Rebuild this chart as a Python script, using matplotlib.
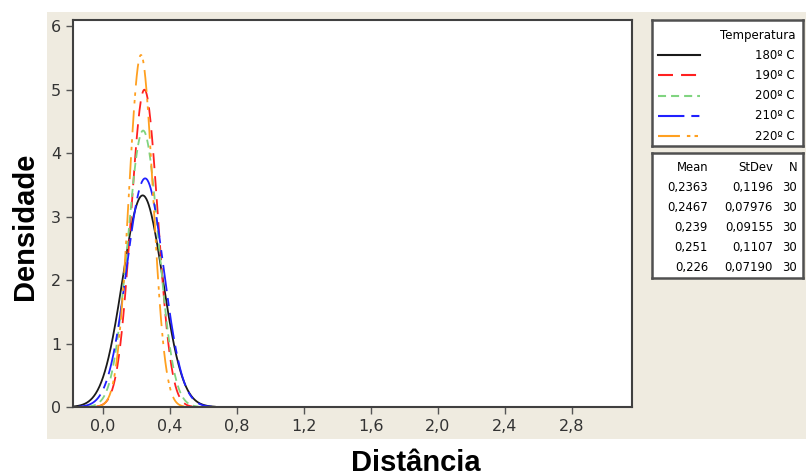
import numpy as np
import matplotlib
matplotlib.use("Agg")
import matplotlib.pyplot as plt
from matplotlib.patches import Rectangle

temperatures = ['180º C', '190º C', '200º C', '210º C', '220º C']
means = [0.2363, 0.2467, 0.239, 0.251, 0.226]
stdevs = [0.1196, 0.07976, 0.09155, 0.1107, 0.07190]
counts = [30, 30, 30, 30, 30]
mean_labels = ['0,2363', '0,2467', '0,239', '0,251', '0,226']
stdev_labels = ['0,1196', '0,07976', '0,09155', '0,1107', '0,07190']
xticks = [0.0, 0.4, 0.8, 1.2, 1.6, 2.0, 2.4, 2.8]
yticks = [0, 1, 2, 3, 4, 5, 6]

colors = ['#1a1a1a', '#ff2020', '#80d480', '#2020ff', '#ffa020']
dashes = [None, (10.8, 5.8), (5.8, 3.6), (19, 5, 5.8, 5), (15.8, 5, 2.5, 3, 2.5, 5)]

plt.rcParams['lines.scale_dashes'] = False

W, H = 806, 476
fig = plt.figure(figsize=(W / 100, H / 100), dpi=100)
fig.patch.set_facecolor('white')


def box(x0, y0, x1, y1):
    # pixel box (top-left origin) -> figure fraction rect
    return [x0 / W, 1 - y1 / H, (x1 - x0) / W, (y1 - y0) / H]


bg = Rectangle((47 / W, 1 - 439 / H), (W - 47) / W, (439 - 12) / H,
               transform=fig.transFigure, facecolor='#efebe0', edgecolor='none', zorder=-5)
fig.patches.append(bg)

ax = fig.add_axes(box(73, 20, 632, 407))
ax.set_facecolor('white')


def normal_pdf(x, mu, sd):
    return np.exp(-0.5 * ((x - mu) / sd) ** 2) / (sd * np.sqrt(2 * np.pi))


for mu, sd, c, d in zip(means, stdevs, colors, dashes):
    x = np.linspace(mu - 3.6 * sd, mu + 3.6 * sd, 400)
    line, = ax.plot(x, normal_pdf(x, mu, sd), color=c, lw=1.3)
    if d is not None:
        line.set_dashes(d)

ax.set_xlim(-0.18, 3.16)
ax.set_ylim(0, 6.1)
ax.set_xticks(xticks)
ax.set_xticklabels([f'{t:.1f}'.replace('.', ',') for t in xticks])
ax.set_yticks(yticks)
ax.tick_params(direction='out', length=5, width=1, color='#555555',
               labelsize=11.5, labelcolor='#333333')
for s in ax.spines.values():
    s.set_color('#404040')
    s.set_linewidth(1.5)

fig.text(25 / W, 1 - 226 / H, 'Densidade', rotation=90, ha='center', va='center',
         fontsize=21, fontweight='bold', family='Liberation Sans')
fig.text(416 / W, 1 - 463 / H, 'Distância', ha='center', va='center',
         fontsize=21, fontweight='bold', family='Liberation Sans')

# legend box
lg = fig.add_axes(box(652, 20, 803, 146))
lg.set_xlim(652, 803)
lg.set_ylim(146, 20)
lg.set_xticks([])
lg.set_yticks([])
for s in lg.spines.values():
    s.set_color('#505050')
    s.set_linewidth(1.8)
lg.text(795, 35, 'Temperatura', ha='right', va='center', fontsize=8.5)
for i, (t, c, d) in enumerate(zip(temperatures, colors, dashes)):
    y = 55 + i * 20.3
    ln, = lg.plot([658, 700], [y, y], color=c, lw=1.5)
    if d is not None:
        ln.set_dashes(d)
    lg.text(795, y, t, ha='right', va='center', fontsize=8.5)

# stats table box
tb = fig.add_axes(box(652, 153, 803, 278))
tb.set_xlim(652, 803)
tb.set_ylim(278, 153)
tb.set_xticks([])
tb.set_yticks([])
for s in tb.spines.values():
    s.set_color('#505050')
    s.set_linewidth(1.8)
tb.text(708, 168, 'Mean', ha='right', va='center', fontsize=8.4)
tb.text(773, 168, 'StDev', ha='right', va='center', fontsize=8.4)
tb.text(797, 168, 'N', ha='right', va='center', fontsize=8.4)
for i in range(len(means)):
    y = 188 + i * 20
    tb.text(708, y, mean_labels[i], ha='right', va='center', fontsize=8.4)
    tb.text(773, y, stdev_labels[i], ha='right', va='center', fontsize=8.4)
    tb.text(797, y, str(counts[i]), ha='right', va='center', fontsize=8.4)

fig.savefig('out.png', dpi=100, facecolor=fig.get_facecolor())
